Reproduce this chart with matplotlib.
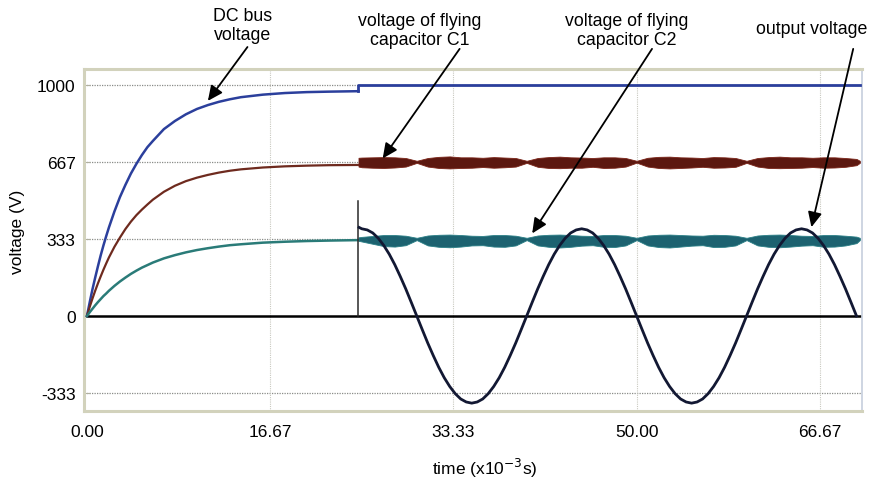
import numpy as np
import matplotlib
matplotlib.use("Agg")
import matplotlib.pyplot as plt

plt.rcParams["font.family"] = ["Liberation Sans", "DejaVu Sans"]

# ---- data (time in ms, voltage in V) ----
# start-up transient, before the converter starts switching
t_pre = [0, 0.25, 0.5, 0.75, 1, 1.25, 1.5, 1.75, 2, 2.5, 3, 3.5, 4, 4.5, 5, 5.5, 6,
         7, 8, 9, 10, 11, 12, 13, 14, 16, 18, 20, 22, 24.7]
dc_pre = [0, 59, 115, 166, 215, 262, 305, 345, 383, 452, 514, 567, 616, 658, 696, 730,
          757, 808, 843, 872, 895, 912, 926, 937, 946, 957, 964, 968, 970, 972]
c1_pre = [0, 39, 75, 109, 141, 171, 200, 227, 253, 299, 339, 376, 408, 436, 460, 482,
          503, 537, 563, 583, 598, 610, 620, 628, 634, 642, 647, 650, 652, 653]
c2_pre = [0, 16, 31, 46, 60, 73, 86, 97, 109, 130, 149, 166, 182, 196, 209, 220,
          231, 249, 263, 275, 285, 293, 300, 306, 310, 317, 321, 324, 326, 328]

t_switch = 24.7
t_end = 70.3
dc_level = 1000
spike_top = 495

# ripple envelopes of the flying capacitor voltages after switching starts
t_rip = [24.7] + list(range(25, 71)) + [70.3]
c1_hi = [684, 685, 686, 687, 686, 683, 671, 683, 688, 690, 686, 686, 684, 687, 685, 683,
         671, 683, 687, 689, 686, 685, 683, 686, 686, 683, 671, 684, 688, 689, 686, 685,
         683, 687, 686, 683, 671, 683, 687, 689, 686, 686, 684, 686, 686, 683, 679, 671]
c1_lo = [646, 643, 641, 640, 642, 646, 662, 646, 640, 638, 640, 641, 644, 641, 643, 646,
         662, 645, 640, 639, 641, 641, 645, 640, 641, 646, 663, 646, 640, 638, 640, 642,
         645, 641, 642, 645, 662, 646, 640, 639, 640, 641, 644, 641, 642, 645, 652, 662]
c2_hi = [340, 342, 346, 350, 350, 347, 338, 348, 351, 352, 350, 347, 346, 350, 350, 347,
         338, 348, 351, 352, 350, 347, 346, 350, 350, 347, 338, 348, 351, 352, 350, 348,
         347, 351, 350, 347, 338, 348, 351, 352, 350, 347, 346, 350, 350, 347, 343, 338]
c2_lo = [325, 322, 312, 302, 300, 306, 328, 305, 299, 297, 300, 305, 306, 300, 299, 305,
         328, 305, 299, 296, 299, 304, 306, 299, 298, 305, 328, 305, 298, 296, 300, 304,
         306, 298, 299, 305, 328, 305, 299, 297, 300, 304, 306, 299, 300, 305, 315, 328]

# output voltage, 50 Hz sine read every 0.5 ms
t_out = [24.75] + [25 + 0.5 * i for i in range(91)]
v_out = [383,
         377, 372, 359, 336, 305, 267, 222, 171, 117, 59, 0,
         -59, -117, -171, -222, -267, -305, -336, -359, -372, -377,
         -372, -359, -336, -305, -267, -222, -171, -117, -59, 0,
         59, 117, 171, 222, 267, 305, 336, 359, 372, 377,
         372, 359, 336, 305, 267, 222, 171, 117, 59, 0,
         -59, -117, -171, -222, -267, -305, -336, -359, -372, -377,
         -372, -359, -336, -305, -267, -222, -171, -117, -59, 0,
         59, 117, 171, 222, 267, 305, 336, 359, 372, 377,
         372, 359, 336, 305, 267, 222, 171, 117, 59, 0]

x_ticks = [0, 16.67, 33.33, 50.00, 66.67]
x_labels = ["0.00", "16.67", "33.33", "50.00", "66.67"]
y_ticks = [-333, 0, 333, 667, 1000]
y_labels = ["-333", "0", "333", "667", "1000"]

DC_COLOR = "#2b3f9c"
C1_COLOR = "#5c1810"
C2_COLOR = "#1d6270"
OUT_COLOR = "#121833"

fig = plt.figure(figsize=(8.73, 4.85), dpi=100)
ax = fig.add_axes([0.0962, 0.1505, 0.8912, 0.7052])

# grid
for y in [1000, 667, 333, -333]:
    ax.axhline(y, color="#8a8c88", lw=0.9, ls=(0, (1, 1)), zorder=1)
for x in x_ticks[1:]:
    ax.axvline(x, color="#c9c9c0", lw=0.8, ls=(0, (1, 1)), zorder=1)

# zero line
ax.plot([0, t_end], [0, 0], color="black", lw=1.8, zorder=2)

# start-up curves
ax.plot(t_pre, dc_pre, color=DC_COLOR, lw=1.8, zorder=3)
ax.plot(t_pre, c1_pre, color="#6e2a1e", lw=1.6, zorder=3)
ax.plot(t_pre, c2_pre, color="#2a7b78", lw=1.8, zorder=3)

# after switching starts
ax.plot([t_switch, t_switch, t_end], [dc_pre[-1], dc_level, dc_level], color=DC_COLOR, lw=2.0, zorder=3)
ax.fill_between(t_rip, c1_lo, c1_hi, color=C1_COLOR, lw=0.6, edgecolor="#7a2418", zorder=3)
ax.fill_between(t_rip, c2_lo, c2_hi, color=C2_COLOR, lw=0.6, edgecolor="#2a7f86", zorder=3)
ax.plot([t_switch, t_switch], [0, spike_top], color="#2a2a2a", lw=1.1, zorder=4)
ax.plot(t_out, v_out, color=OUT_COLOR, lw=2.0, zorder=4)

ax.set_xlim(-0.27, 70.5)
ax.set_ylim(-411, 1068)

ax.set_xticks(x_ticks)
ax.set_xticklabels(x_labels)
ax.set_yticks(y_ticks)
ax.set_yticklabels(y_labels)
ax.tick_params(axis="x", length=0, pad=9, labelsize=12.5)
ax.tick_params(axis="y", direction="in", length=4, width=0.8, color="#b0b0a0", pad=6, labelsize=12.5)

for loc in ["bottom", "top", "left"]:
    ax.spines[loc].set_color("#d2d2bc")
    ax.spines[loc].set_linewidth(2.2)
ax.spines["right"].set_color("#c6cedd")
ax.spines["right"].set_linewidth(1.2)

ax.set_xlabel("time (x10$^{-3}$s)", fontsize=12.5)
ax.xaxis.set_label_coords(0.515, -0.164)
ax.xaxis.label.set_va("center")
ax.set_ylabel("voltage (V)", fontsize=12.5)
ax.yaxis.set_label_coords(-0.085, 0.526)
ax.yaxis.label.set_va("center")

# annotations
arrow = dict(arrowstyle="-|>,head_length=0.75,head_width=0.35", color="black",
             lw=1.3, mutation_scale=12, shrinkA=0, shrinkB=0)
notes = [
    ("DC bus\nvoltage", (14.2, 1259), (14.6, 1163), (11.0, 930)),
    ("voltage of flying\ncapacitor C1", (30.3, 1237), (33.9, 1155), (26.9, 681)),
    ("voltage of flying\ncapacitor C2", (49.1, 1237), (51.4, 1155), (40.5, 357)),
    ("output voltage", (65.9, 1241), (69.7, 1155), (65.9, 384)),
]
for text, pos, tail, head in notes:
    ax.text(pos[0], pos[1], text, ha="center", va="center", fontsize=12.8,
            linespacing=1.15, clip_on=False)
    ax.annotate("", xy=head, xytext=tail, arrowprops=arrow, annotation_clip=False, zorder=6)

fig.savefig("out.png", dpi=100)
